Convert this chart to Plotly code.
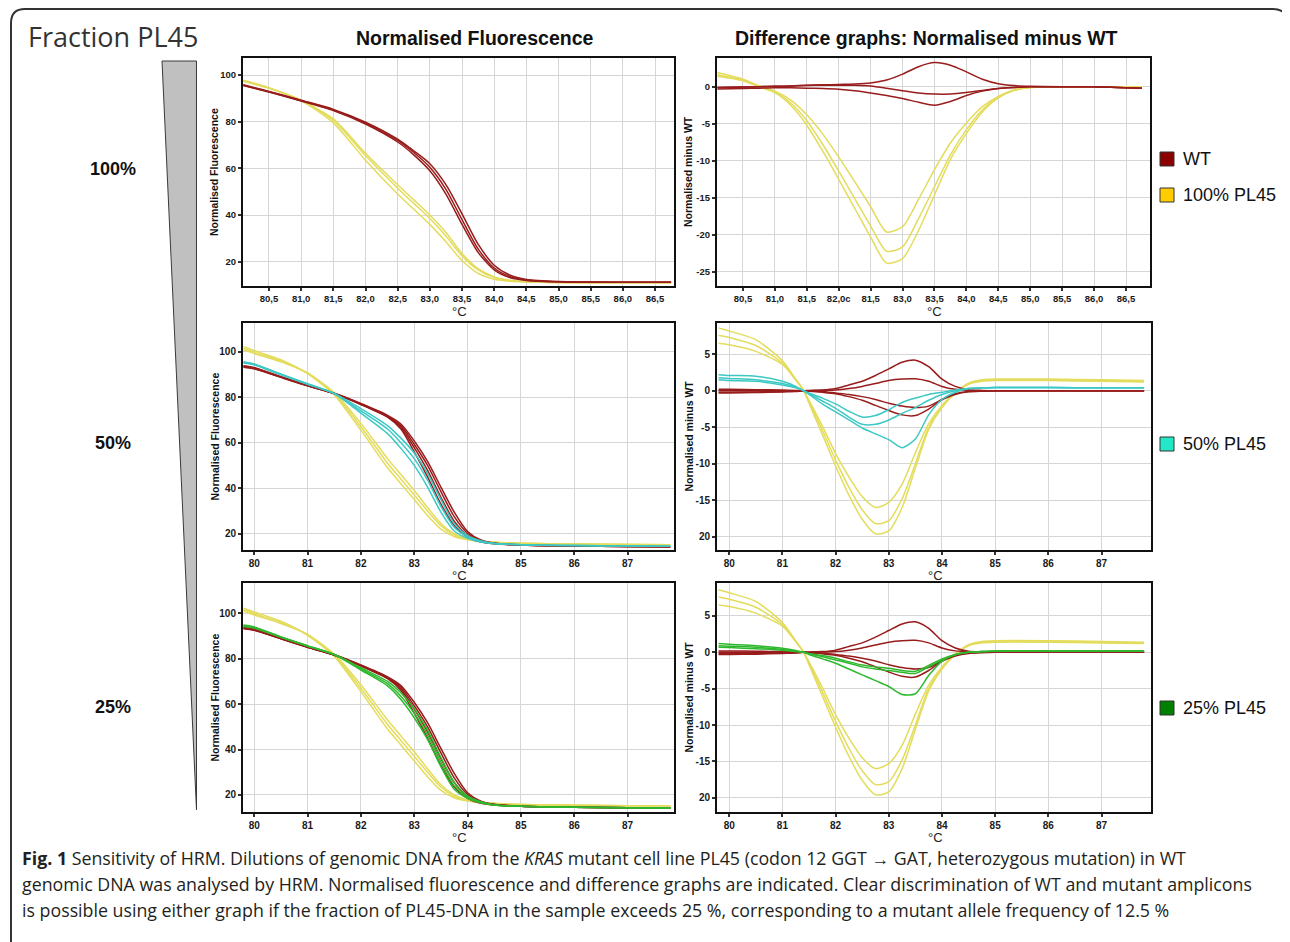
import plotly.graph_objects as go

W, H = 1290, 942
OFF = 8  # browser body margin

# ================= DATA =================
# ---- Row 1: 100% PL45 ----
x_r1_norm = [80.1, 80.5, 81.0, 81.5, 82.0, 82.5, 82.75, 83.0, 83.25, 83.5, 83.75, 84.0, 84.25, 84.5, 85.0, 86.0, 86.75]
wt_r1_norm = [
    [95.8, 93.0, 89.2, 85.3, 79.8, 72.5, 67.5, 62.0, 53.0, 40.5, 27.5, 18.5, 14.2, 12.4, 11.5, 11.2, 11.2],
    [95.6, 92.8, 89.0, 85.0, 79.4, 72.0, 66.8, 60.5, 51.0, 38.0, 25.5, 17.3, 13.6, 12.2, 11.4, 11.2, 11.2],
    [95.5, 92.7, 88.9, 84.8, 79.0, 71.3, 65.8, 59.0, 49.0, 36.0, 24.0, 16.5, 13.1, 12.0, 11.4, 11.2, 11.2],
]
pl100_r1_norm = [
    [97.8, 94.6, 89.0, 79.5, 63.5, 49.0, 42.5, 36.0, 28.5, 20.5, 15.0, 12.5, 11.6, 11.3, 11.1, 11.0, 11.0],
    [97.5, 94.4, 89.1, 80.5, 65.5, 51.5, 45.0, 38.5, 31.0, 22.5, 16.5, 13.2, 11.9, 11.4, 11.1, 11.0, 11.0],
    [97.3, 94.3, 89.2, 81.2, 66.5, 53.0, 46.5, 40.0, 32.5, 23.5, 17.0, 13.5, 12.0, 11.4, 11.1, 11.0, 11.0],
]
x_r1_diff = [80.1, 80.5, 80.75, 81.0, 81.25, 81.5, 81.75, 82.0, 82.25, 82.5, 82.75, 83.0, 83.25, 83.5,
             83.75, 84.0, 84.25, 84.5, 84.75, 85.0, 85.5, 86.0, 86.75]
wt_r1_diff = [
    [-0.1, -0.05, 0.0, 0.05, 0.1, 0.2, 0.25, 0.3, 0.35, 0.5, 0.9, 1.7, 2.7, 3.25, 2.9, 2.0, 1.0, 0.4, 0.15, 0.05, 0.0, 0.0, -0.2],
    [-0.1, -0.05, 0.0, 0.05, 0.1, 0.15, 0.2, 0.2, 0.2, 0.1, -0.2, -0.55, -0.85, -1.0, -1.0, -0.8, -0.5, -0.25, -0.1, 0.0, 0.0, 0.0, -0.2],
    [-0.3, -0.25, -0.2, -0.15, -0.15, -0.2, -0.25, -0.35, -0.55, -0.85, -1.2, -1.6, -2.1, -2.5, -2.0, -1.2, -0.6, -0.25, -0.1, 0.0, 0.0, 0.0, -0.2],
]
pl100_r1_diff = [
    [1.9, 1.0, 0.1, -0.6, -1.8, -3.8, -6.4, -9.5, -12.8, -16.2, -19.6, -18.9, -15.2, -11.2, -7.6, -4.9, -2.7, -1.3, -0.4, -0.1, 0.0, 0.0, 0.0],
    [1.6, 0.9, 0.1, -0.7, -2.2, -4.6, -7.8, -11.4, -15.1, -18.8, -22.2, -21.6, -17.8, -13.5, -9.2, -5.8, -3.1, -1.4, -0.5, -0.1, 0.0, 0.0, 0.0],
    [1.4, 0.8, 0.0, -0.8, -2.5, -5.2, -8.7, -12.5, -16.4, -20.3, -23.8, -23.2, -19.4, -14.6, -9.8, -6.3, -3.4, -1.5, -0.5, -0.1, 0.0, 0.0, 0.0],
]

# ---- Rows 2 & 3: shared WT and 100% PL45 runs ----
x_r23_norm = [79.8, 80.0, 80.5, 81.0, 81.5, 82.0, 82.5, 82.75, 83.0, 83.25, 83.5, 83.75, 84.0, 84.25, 84.5, 85.0, 86.0, 87.0, 87.8]
wt_r23_norm = [
    [93.8, 93.0, 89.0, 85.2, 81.6, 76.8, 71.2, 66.0, 56.0, 45.0, 33.0, 23.5, 18.5, 16.3, 15.6, 15.0, 14.6, 14.4, 14.3],
    [93.6, 92.8, 88.9, 85.1, 81.6, 76.9, 71.4, 66.8, 57.8, 47.8, 36.0, 25.5, 19.3, 16.6, 15.7, 15.0, 14.6, 14.4, 14.3],
    [93.4, 92.6, 88.8, 85.0, 81.6, 77.0, 71.7, 67.5, 59.3, 50.0, 38.5, 27.5, 20.2, 17.0, 15.8, 15.0, 14.6, 14.4, 14.3],
    [93.2, 92.5, 88.7, 85.0, 81.7, 77.2, 72.0, 68.2, 60.8, 51.8, 40.5, 29.5, 21.0, 17.3, 15.9, 15.0, 14.6, 14.4, 14.3],
]
pl100_r23_norm = [
    [102.2, 100.5, 96.5, 90.3, 81.0, 65.5, 49.0, 42.0, 35.0, 28.0, 22.0, 18.8, 17.3, 16.6, 16.2, 15.8, 15.5, 15.3, 15.2],
    [101.5, 99.8, 96.0, 90.5, 81.5, 67.0, 51.0, 44.0, 37.0, 30.0, 23.5, 19.5, 17.6, 16.7, 16.2, 15.8, 15.5, 15.3, 15.2],
    [100.8, 99.2, 95.5, 90.7, 82.0, 68.5, 53.0, 46.0, 39.0, 31.5, 24.5, 20.0, 17.8, 16.8, 16.3, 15.8, 15.5, 15.3, 15.2],
]
pl50_r2_norm = [
    [95.6, 94.6, 90.2, 85.9, 81.7, 75.0, 67.5, 62.0, 55.5, 46.5, 35.0, 24.5, 19.2, 16.9, 15.8, 15.2, 14.8, 14.6, 14.5],
    [95.3, 94.4, 90.0, 85.8, 81.6, 74.0, 66.0, 60.0, 53.0, 43.5, 32.0, 22.8, 18.6, 16.6, 15.7, 15.2, 14.8, 14.6, 14.5],
    [95.0, 94.2, 89.8, 85.7, 81.6, 73.0, 64.0, 57.5, 50.0, 40.5, 29.5, 21.2, 18.0, 16.3, 15.6, 15.2, 14.8, 14.6, 14.5],
]
pl25_r3_norm = [
    [94.8, 93.9, 89.6, 85.7, 81.8, 76.0, 70.0, 65.0, 58.0, 48.5, 36.5, 25.5, 19.5, 17.0, 15.6, 15.0, 14.6, 14.4, 14.3],
    [94.5, 93.7, 89.5, 85.6, 81.8, 75.5, 69.0, 63.5, 56.0, 46.5, 34.5, 24.0, 19.0, 16.8, 15.6, 15.0, 14.6, 14.4, 14.3],
    [94.2, 93.5, 89.4, 85.5, 81.8, 75.0, 68.0, 62.0, 54.0, 44.5, 32.5, 22.5, 18.5, 16.5, 15.6, 15.0, 14.6, 14.4, 14.3],
]
x_r23_diff = [79.8, 80.0, 80.5, 81.0, 81.25, 81.4, 81.5, 81.75, 82.0, 82.25, 82.5, 82.75, 83.0, 83.25,
              83.5, 83.75, 84.0, 84.25, 84.5, 84.75, 85.0, 86.0, 87.0, 87.8]
wt_r23_diff = [
    [0.0, 0.0, 0.0, 0.0, 0.0, 0.0, 0.05, 0.1, 0.3, 0.8, 1.3, 2.1, 3.0, 3.9, 4.2, 3.3, 1.6, 0.6, 0.15, 0.05, 0.0, 0.0, 0.0, 0.0],
    [0.2, 0.2, 0.15, 0.1, 0.05, 0.0, 0.0, 0.05, 0.1, 0.3, 0.6, 1.0, 1.4, 1.6, 1.65, 1.3, 0.6, 0.2, 0.05, 0.0, 0.0, 0.0, 0.0, 0.0],
    [-0.2, -0.2, -0.15, -0.1, -0.05, 0.0, -0.05, -0.1, -0.3, -0.5, -0.8, -1.2, -1.7, -2.1, -2.3, -2.1, -1.2, -0.5, -0.15, -0.05, 0.0, 0.0, 0.0, 0.0],
    [-0.3, -0.3, -0.25, -0.15, -0.1, 0.0, -0.05, -0.2, -0.4, -0.8, -1.3, -2.0, -2.7, -3.3, -3.4, -2.5, -1.2, -0.4, -0.1, 0.0, 0.0, 0.0, 0.0, 0.0],
]
pl100_r23_diff = [
    [6.5, 6.3, 5.4, 3.6, 1.5, 0.0, -1.3, -4.8, -8.6, -11.8, -14.5, -16.0, -15.3, -12.8, -8.5, -4.5, -2.0, -0.2, 0.9, 1.3, 1.4, 1.4, 1.3, 1.2],
    [7.6, 7.3, 6.2, 3.8, 1.5, 0.0, -1.5, -5.4, -9.5, -13.2, -16.3, -18.2, -17.8, -14.8, -10.0, -5.0, -2.2, -0.3, 1.0, 1.4, 1.5, 1.5, 1.4, 1.3],
    [8.6, 8.2, 7.0, 4.1, 1.6, 0.0, -1.7, -6.0, -10.3, -14.3, -17.6, -19.6, -19.2, -16.0, -10.6, -5.3, -2.3, -0.3, 1.05, 1.5, 1.6, 1.6, 1.5, 1.4],
]
pl50_r2_diff = [
    [2.2, 2.1, 2.0, 1.3, 0.6, 0.0, -0.3, -1.0, -1.8, -2.8, -3.6, -3.4, -2.6, -1.6, -1.0, -0.5, -0.2, 0.1, 0.3, 0.4, 0.45, 0.45, 0.4, 0.4],
    [1.8, 1.7, 1.5, 1.0, 0.5, 0.0, -0.4, -1.4, -2.4, -3.6, -4.6, -4.6, -4.0, -3.1, -2.3, -1.3, -0.5, 0.0, 0.3, 0.4, 0.45, 0.45, 0.4, 0.4],
    [1.5, 1.4, 1.3, 0.8, 0.4, 0.0, -0.5, -1.8, -2.9, -4.0, -5.1, -5.9, -6.7, -7.8, -6.6, -3.3, -1.2, -0.2, 0.3, 0.4, 0.45, 0.45, 0.4, 0.4],
]
pl25_r3_diff = [
    [1.2, 1.1, 0.9, 0.55, 0.25, 0.0, -0.15, -0.45, -0.8, -1.3, -1.75, -2.0, -2.2, -2.5, -2.6, -1.8, -0.9, -0.3, 0.0, 0.1, 0.2, 0.2, 0.2, 0.2],
    [0.9, 0.85, 0.7, 0.4, 0.15, 0.0, -0.2, -0.6, -1.05, -1.5, -2.0, -2.3, -2.5, -2.75, -2.9, -2.0, -1.05, -0.35, 0.0, 0.1, 0.2, 0.2, 0.2, 0.2],
    [0.7, 0.65, 0.5, 0.3, 0.1, 0.0, -0.3, -0.9, -1.5, -2.3, -3.1, -3.9, -4.7, -5.8, -5.7, -3.2, -1.2, -0.3, 0.0, 0.1, 0.2, 0.2, 0.2, 0.2],
]

# ---- tick labels ----
r1_xticks = [80.5, 81.0, 81.5, 82.0, 82.5, 83.0, 83.5, 84.0, 84.5, 85.0, 85.5, 86.0, 86.5]
r1_left_xtext = ["80,5", "81,0", "81,5", "82,0", "82,5", "83,0", "83,5", "84,0", "84,5", "85,0", "85,5", "86,0", "86,5"]
r1_right_xtext = ["80,5", "81,0", "81,5", "82,0c", "81,5", "83,0", "83,5", "84,0", "84,5", "85,0", "85,5", "86,0", "86,5"]
r23_xticks = [80, 81, 82, 83, 84, 85, 86, 87]
r23_xtext = ["80", "81", "82", "83", "84", "85", "86", "87"]
norm_yticks = [20, 40, 60, 80, 100]
norm_ytext = ["20", "40", "60", "80", "100"]
r1_diff_yticks = [-25, -20, -15, -10, -5, 0]
r1_diff_ytext = ["-25", "-20", "-15", "-10", "-5", "0"]
r23_diff_yticks = [-20, -15, -10, -5, 0, 5]
r23_diff_ytext = ["20", "-15", "-10", "-5", "0", "5"]

row_labels = ["100%", "50%", "25%"]
legend_labels = ["WT", "100% PL45", "50% PL45", "25% PL45"]
legend_colors = ["#8B0000", "#FFCC00", "#22E8C8", "#008000"]

# ================= STYLE =================
C_WT = "#981c1c"
C_Y = "#e3dc5c"
C_CY = "#3cc8c4"
C_GR = "#2eb82e"


def fx(p):
    return (p - OFF) / W


def fy(p):
    return 1 - (p - OFF) / H


fig = go.Figure()

panels = {
    1: dict(box=(243, 674, 58, 286), xr=[80.096, 86.795], yr=[9.59, 107.3],
            xt=(r1_xticks, r1_left_xtext), yt=(norm_yticks, norm_ytext), fs=9.5),
    2: dict(box=(717, 1150, 58, 286), xr=[80.093, 86.876], yr=[-26.89, 3.87],
            xt=(r1_xticks, r1_right_xtext), yt=(r1_diff_yticks, r1_diff_ytext), fs=9.5),
    3: dict(box=(243, 674, 323, 550), xr=[79.79, 87.87], yr=[12.84, 112.6],
            xt=(r23_xticks, r23_xtext), yt=(norm_yticks, norm_ytext), fs=10),
    4: dict(box=(717, 1151, 323, 550), xr=[79.77, 87.93], yr=[-21.82, 9.29],
            xt=(r23_xticks, r23_xtext), yt=(r23_diff_yticks, r23_diff_ytext), fs=10),
    5: dict(box=(243, 674, 583, 812), xr=[79.79, 87.87], yr=[12.5, 113.3],
            xt=(r23_xticks, r23_xtext), yt=(norm_yticks, norm_ytext), fs=10),
    6: dict(box=(717, 1151, 583, 812), xr=[79.77, 87.93], yr=[-21.97, 9.54],
            xt=(r23_xticks, r23_xtext), yt=(r23_diff_yticks, r23_diff_ytext), fs=10),
}

layout_axes = {}
for i, p in panels.items():
    l, r, t, b = p["box"]
    sx = "" if i == 1 else str(i)
    tf = dict(family="Liberation Sans", size=p["fs"], color="#1a1a1a", weight="bold")
    common = dict(showgrid=True, gridcolor="#d6d6d6", gridwidth=1, showline=True, linecolor="#111111",
                  linewidth=2, mirror=True, ticks="outside", ticklen=3, tickwidth=1.5, tickcolor="#333",
                  tickfont=tf, zeroline=False, fixedrange=True)
    layout_axes["xaxis" + sx] = dict(domain=[fx(l), fx(r)], range=p["xr"], anchor="y" + sx,
                                      tickmode="array", tickvals=p["xt"][0], ticktext=p["xt"][1], **common)
    layout_axes["yaxis" + sx] = dict(domain=[fy(b), fy(t)], range=p["yr"], anchor="x" + sx,
                                      tickmode="array", tickvals=p["yt"][0], ticktext=p["yt"][1], **common)


def add_group(panel, xs, ys_list, color, width=1.5):
    sx = "" if panel == 1 else str(panel)
    for ys in ys_list:
        fig.add_trace(go.Scatter(x=xs, y=ys, mode="lines",
                                 line=dict(color=color, width=width, shape="spline", smoothing=0.7),
                                 xaxis="x" + sx, yaxis="y" + sx, showlegend=False, hoverinfo="skip"))


# Row 1
add_group(1, x_r1_norm, pl100_r1_norm, C_Y)
add_group(1, x_r1_norm, wt_r1_norm, C_WT)
add_group(2, x_r1_diff, pl100_r1_diff, C_Y)
add_group(2, x_r1_diff, wt_r1_diff, C_WT)
# Row 2
add_group(3, x_r23_norm, pl100_r23_norm, C_Y)
add_group(3, x_r23_norm, wt_r23_norm, C_WT)
add_group(3, x_r23_norm, pl50_r2_norm, C_CY)
add_group(4, x_r23_diff, pl100_r23_diff, C_Y)
add_group(4, x_r23_diff, wt_r23_diff, C_WT)
add_group(4, x_r23_diff, pl50_r2_diff, C_CY)
# Row 3
add_group(5, x_r23_norm, pl100_r23_norm, C_Y)
add_group(5, x_r23_norm, wt_r23_norm, C_WT)
add_group(5, x_r23_norm, pl25_r3_norm, C_GR)
add_group(6, x_r23_diff, pl100_r23_diff, C_Y)
add_group(6, x_r23_diff, wt_r23_diff, C_WT)
add_group(6, x_r23_diff, pl25_r3_diff, C_GR)

annotations = []


def txt(x, y, s, size, family="Liberation Sans", color="#111", bold=False, xanchor="center", angle=0):
    annotations.append(dict(x=fx(x), y=fy(y), xref="paper", yref="paper", text=s, showarrow=False,
                            xanchor=xanchor, yanchor="middle", textangle=angle,
                            font=dict(family=family, size=size, color=color,
                                      weight="bold" if bold else "normal")))


# headings
txt(26, 37, "Fraction PL45", 27, family="Open Sans", color="#333", xanchor="left")
txt(474, 38, "Normalised Fluorescence", 19.5, bold=True)
txt(927, 38, "Difference graphs: Normalised minus WT", 19.5, bold=True)

# row labels
for lab, yy in zip(row_labels, [169, 443, 707]):
    txt(113, yy, lab, 18, bold=True)

# axis labels
for i, p in panels.items():
    l, r, t, b = p["box"]
    cy = (t + b) / 2
    if i in (1, 3, 5):
        txt(214, cy, "Normalised Fluorescence", 10.5, bold=True, angle=-90)
    else:
        txt(688, cy, "Normalised minus WT", 10.5, bold=True, angle=-90)
    txt((l + r) / 2 + 1, b + 25, "°C", 13, color="#222")

# legend
shapes = []
leg_y = [159, 195, 444, 708]
for lab, col, yy in zip(legend_labels, legend_colors, leg_y):
    shapes.append(dict(type="rect", xref="paper", yref="paper", x0=fx(1160), x1=fx(1174),
                       y0=fy(yy + 7), y1=fy(yy - 7), fillcolor=col, line=dict(color="#333", width=1)))
    txt(1181, yy, lab, 18, family="Liberation Sans", color="#111", xanchor="left")

# grey wedge
wedge = "M {},{} L {},{} L {},{} Z".format(fx(162), fy(61), fx(196.5), fy(61), fx(196.5), fy(810))
shapes.append(dict(type="path", xref="paper", yref="paper", path=wedge, fillcolor="#c0c0c0",
                   line=dict(color="#3a3a3a", width=1)))

# rounded figure border (bottom edge lies outside the picture)
rr = 14
border = ("M {},{} L {},{} Q {},{} {},{} L {},{} Q {},{} {},{} L {},{}").format(
    fx(11), fy(960), fx(11), fy(9 + rr), fx(11), fy(9), fx(11 + rr), fy(9),
    fx(1287 - rr), fy(9), fx(1287), fy(9), fx(1287), fy(9 + rr), fx(1287), fy(960))
shapes.append(dict(type="path", xref="paper", yref="paper", path=border,
                   line=dict(color="#333", width=2)))

# caption
cap = [
    "<b>Fig. 1</b> Sensitivity of HRM. Dilutions of genomic DNA from the <i>KRAS</i> mutant cell line PL45 (codon 12 GGT \u2192 GAT, heterozygous mutation) in WT",
    "genomic DNA was analysed by HRM. Normalised fluorescence and difference graphs are indicated. Clear discrimination of WT and mutant amplicons",
    "is possible using either graph if the fraction of PL45-DNA in the sample exceeds 25 %, corresponding to a mutant allele frequency of 12.5 %",
]
for line, yy in zip(cap, [858, 884, 910]):
    txt(20, yy, line, 17.8, family="Open Sans", color="#231f20", xanchor="left")

fig.update_layout(width=W, height=H, margin=dict(l=0, r=0, t=0, b=0), paper_bgcolor="white",
                  plot_bgcolor="white", showlegend=False, annotations=annotations, shapes=shapes,
                  **layout_axes)

fig.write_html("out.html")
